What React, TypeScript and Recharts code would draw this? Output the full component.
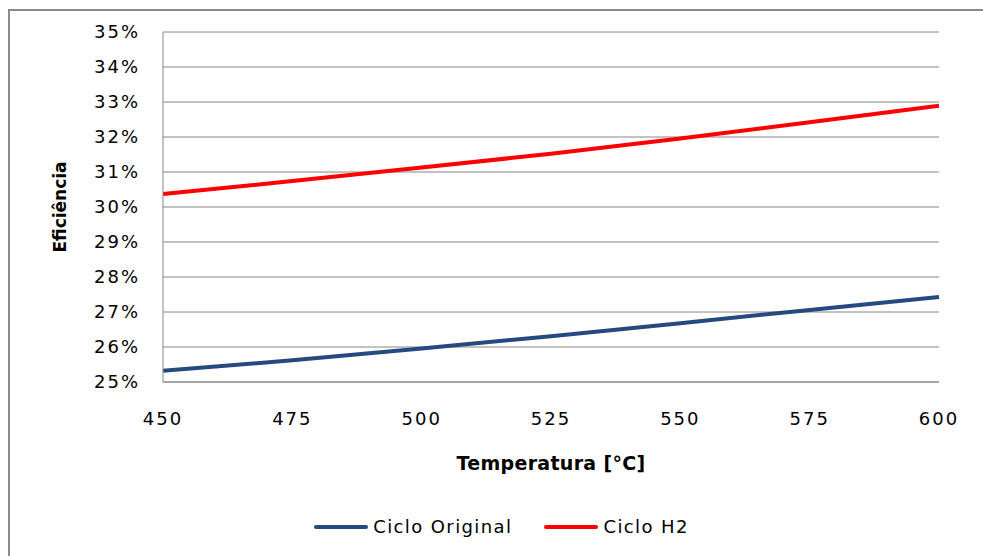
import React from "react";
import { LineChart, Line, XAxis, YAxis, CartesianGrid, Legend } from "recharts";

const temperatures = [450, 475, 500, 525, 550, 575, 600];
const cicloOriginal = [25.32, 25.62, 25.96, 26.31, 26.68, 27.06, 27.43];
const cicloH2 = [30.37, 30.74, 31.13, 31.52, 31.96, 32.42, 32.89];
const xTicks = [450, 475, 500, 525, 550, 575, 600];
const yTicks = [25, 26, 27, 28, 29, 30, 31, 32, 33, 34, 35];
const seriesNames = ["Ciclo Original", "Ciclo H2"];
const seriesColors = ["#254A7F", "#FF0000"];

const data = temperatures.map((t, i) => ({
  t,
  original: cicloOriginal[i],
  h2: cicloH2[i],
}));

const tickFont = { fontFamily: "DejaVu Sans", fontSize: 18, fill: "#000", letterSpacing: 2 };

const LegendContent = () => (
  <div
    style={{
      display: "flex",
      justifyContent: "center",
      alignItems: "center",
      fontFamily: "DejaVu Sans",
      fontSize: 18,
      letterSpacing: 1.4,
      color: "#000",
    }}
  >
    {seriesNames.map((n, i) => (
      <div key={n} style={{ display: "flex", alignItems: "center", marginRight: i === 0 ? 32 : 0 }}>
        <div style={{ width: 54, height: 4, background: seriesColors[i], borderRadius: 2, marginRight: 5 }} />
        <span>{n}</span>
      </div>
    ))}
  </div>
);

export default function App() {
  return (
    <div style={{ position: "relative", width: 983, height: 556, overflow: "hidden" }}>
      <style>{`html,body{margin:0;padding:0;overflow:hidden}`}</style>
      <div
        style={{
          position: "absolute",
          left: 8,
          top: 9,
          width: 980,
          height: 560,
          borderLeft: "2px solid #8a8a8a",
          borderTop: "2px solid #8a8a8a",
        }}
      />
      <div style={{ position: "absolute", left: 8, top: 8 }}>
        <LineChart
          width={975}
          height={548}
          data={data}
          margin={{ top: 24, right: 44, left: 0, bottom: 84 }}
        >
          <CartesianGrid horizontal vertical={false} stroke="#868686" strokeWidth={1} />
          <XAxis
            dataKey="t"
            type="number"
            domain={[450, 600]}
            ticks={xTicks}
            height={90}
            tickLine={false}
            tickSize={0}
            tickMargin={30}
            axisLine={{ stroke: "#868686", strokeWidth: 1 }}
            tick={tickFont}
            label={{
              value: "Temperatura [°C]",
              position: "insideBottom",
              offset: 2,
              style: {
                fontFamily: "DejaVu Sans",
                fontSize: 19,
                fontWeight: "bold",
                fill: "#000",
                letterSpacing: 0.3,
              },
            }}
          />
          <YAxis
            type="number"
            domain={[25, 35]}
            ticks={yTicks}
            width={155}
            tickLine={false}
            tickSize={0}
            tickMargin={23}
            axisLine={{ stroke: "#868686", strokeWidth: 1 }}
            tick={tickFont}
            tickFormatter={(v: number) => `${v}%`}
            label={{
              value: "Eficiência",
              angle: -90,
              position: "insideLeft",
              offset: 52,
              style: {
                fontFamily: "DejaVu Sans",
                fontSize: 17,
                fontWeight: "bold",
                fill: "#000",
                textAnchor: "middle",
              },
            }}
          />
          <Legend
            layout="horizontal"
            verticalAlign="middle"
            align="center"
            wrapperStyle={{ top: 508, left: 6, width: 975 }}
            content={<LegendContent />}
          />
          <Line
            type="linear"
            dataKey="original"
            name={seriesNames[0]}
            stroke={seriesColors[0]}
            strokeWidth={4}
            dot={false}
            isAnimationActive={false}
          />
          <Line
            type="linear"
            dataKey="h2"
            name={seriesNames[1]}
            stroke={seriesColors[1]}
            strokeWidth={4}
            dot={false}
            isAnimationActive={false}
          />
        </LineChart>
      </div>
    </div>
  );
}
